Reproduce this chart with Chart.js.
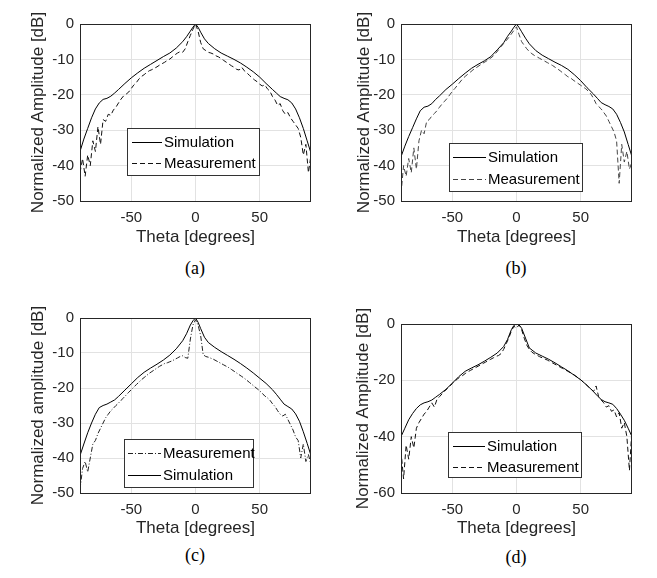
<!DOCTYPE html>
<html>
<head>
<meta charset="utf-8">
<script src="https://cdn.jsdelivr.net/npm/chart.js@4.4.1/dist/chart.umd.min.js"></script>
<style>
  body { margin: 0; background: #fff; }
  #wrap { position: relative; width: 657px; height: 578px; overflow: hidden; }
  canvas { position: absolute; }
  .cap { position: absolute; font: 18px "Liberation Serif", "Times New Roman", serif; color: #000; transform: translate(-50%, -50%); }
</style>
</head>
<body>
<div id="wrap">
  <canvas id="plotA" width="328" height="250" style="left:0;top:0"></canvas>
  <canvas id="plotB" width="329" height="250" style="left:328px;top:0"></canvas>
  <canvas id="plotC" width="328" height="250" style="left:0;top:290px"></canvas>
  <canvas id="plotD" width="329" height="250" style="left:328px;top:290px"></canvas>
  <div class="cap" style="left:195px;top:268px">(a)</div>
  <div class="cap" style="left:516px;top:268px">(b)</div>
  <div class="cap" style="left:195px;top:555px">(c)</div>
  <div class="cap" style="left:516px;top:557px">(d)</div>
</div>
<script>
// angle grids (degrees)
const thetaSim = [-90,-87,-84,-81,-78,-75,-72,-69,-66,-63,-60,-55,-50,-45,-40,-35,-30,-25,-20,-15,-10,-7,-4,-2,0,
  2,4,7,10,15,20,25,30,35,40,45,50,55,60,63,66,69,72,75,78,81,84,87,90];
const thetaMeas = [-90,-88,-86,-84,-82,-80,-78,-76,-74,-72,-70,-68,-66,-64,-62,-60,-58,-56,-54,-52,
  -50,-48,-46,-44,-42,-40,-38,-36,-34,-32,-30,-28,-26,-24,-22,-20,-18,-16,-14,-12,
  -10,-8,-6,-4,-2,0,2,4,6,8,10,12,14,16,18,20,22,24,26,28,
  30,32,34,36,38,40,42,44,46,48,50,52,54,56,58,60,62,64,66,68,
  70,72,74,76,78,80,82,84,86,88,90];

// (a)
const simA = [-36,-32.5,-29.5,-26.5,-24,-22.3,-21.3,-21,-20.4,-19.5,-18.5,-16.8,-15.2,-13.8,-12.5,-11.4,-10.3,-9.2,-8.2,-6.8,-5,-3.6,-2,-0.9,0,
  -0.9,-2.3,-4.2,-5.5,-7,-8.2,-9.1,-10,-11,-12.2,-13.5,-15,-16.8,-18.5,-19.5,-20.5,-21,-21.4,-22.3,-24,-26.5,-29.5,-33,-36.5];
const measA = [-42,-38,-43,-37,-40,-33,-36,-29,-34,-27,
  -27.5,-25.5,-25.8,-24.3,-23.5,-22.3,-21.2,-20.3,-19.8,-19.2,
  -18.2,-17.2,-16.5,-15.5,-14.8,-14.3,-13.7,-13.2,-12.9,-12.5,
  -12.1,-11.6,-11.2,-10.8,-10.3,-9.9,-9.3,-8.7,-8.2,-7.8,
  -8,-7,-5,-3.2,-1.5,0,-2,-5.2,-7,-7.5,
  -8,-8.2,-8.5,-9,-9.3,-9.8,-10.3,-10.8,-11.3,-11.8,
  -12.2,-12.8,-13,-12.2,-13.2,-13.8,-14.5,-15.2,-15.8,-16.3,
  -17,-17.5,-17.2,-18.3,-19,-20.5,-21.5,-23,-22.5,-24.5,
  -25.5,-25,-26.5,-27.5,-28.5,-29.5,-32,-37,-34,-42,
  -37];

// (b)
const simB = [-37.5,-34.5,-31.8,-29.3,-26.8,-24.5,-23.5,-23.2,-22.5,-21.3,-20.3,-18.5,-17,-15.4,-13.9,-12.5,-11.4,-10.4,-9.2,-7.3,-5.3,-3.5,-2,-0.9,0,
  -1,-2.2,-4,-5.6,-7.5,-8.8,-9.8,-10.8,-11.7,-12.8,-14.3,-16,-18,-19.8,-21,-22.2,-22.8,-23.3,-24,-25.5,-27.8,-30.5,-34,-37.5];
const measB = [-48,-40,-43,-38,-42,-35,-41,-33,-30,-31,
  -27.5,-27,-26,-25.3,-24.5,-23.5,-22.6,-21.8,-21,-20,
  -19,-18.2,-17.3,-16.4,-15.5,-14.8,-14.2,-13.6,-13,-12.5,
  -12,-11.5,-11,-10.6,-10.1,-9.6,-9,-8.2,-7.3,-6.4,
  -5.5,-4.7,-3.8,-2.8,-1.8,-0.8,-3,-5,-6,-7,
  -7.8,-8.4,-8.9,-9.3,-9.7,-10.1,-10.5,-10.9,-11.3,-11.7,
  -12.2,-12.7,-13.2,-13.8,-14.3,-14.9,-15.2,-15.8,-16.3,-16.8,
  -17.3,-17.8,-18.3,-19,-19.8,-21,-22.5,-23.3,-24,-25,
  -26,-27.5,-29,-30.5,-33,-45,-34,-39,-36,-41,
  -39];

// (c)
const simC = [-39.3,-36,-32.8,-30,-27.5,-25.6,-25,-24.6,-24,-23.4,-22.4,-20.6,-18.8,-17,-15.5,-14.3,-13.2,-12,-10.6,-8.8,-6.5,-4.5,-2,-0.8,0,
  -1.2,-3,-5.5,-7,-8.4,-9.6,-10.7,-11.8,-13,-14.3,-15.7,-17.2,-18.7,-20.5,-21.8,-23.2,-24.6,-25.3,-26,-27.4,-29.5,-32.5,-35.8,-39.3];
const measC = [-49,-43,-41,-44,-40,-36,-35,-33,-31.5,-30,
  -28.5,-27.5,-26.5,-25.8,-25,-24.3,-23.5,-22.8,-22,-21.2,
  -20.5,-19.7,-19,-18.3,-17.6,-17,-16.4,-15.8,-15.3,-14.8,
  -14.3,-13.8,-13.4,-13,-12.8,-12.5,-12.2,-11.8,-11.4,-11,
  -10.8,-11.3,-11.5,-6,-2,-0.5,-2,-5,-10.5,-11,
  -11.2,-11.5,-11.8,-12.2,-12.6,-13,-13.4,-13.8,-14.2,-14.7,
  -15.2,-15.7,-16.2,-16.7,-17.2,-17.8,-18.4,-19,-19.6,-20.2,
  -20.8,-21.5,-22.3,-22.8,-23.5,-24.5,-25.3,-26.5,-27.5,-28,
  -27.5,-29,-30.5,-32,-34,-35,-40,-36,-41,-39,
  -42];

// (d)
const simD = [-40,-37,-34,-31.8,-30,-28.7,-28,-27.6,-27,-26,-25,-23.2,-21,-18.7,-16.8,-15.6,-14.5,-13.2,-11.8,-10.3,-8,-5.5,-2,-0.5,0,
  -0.3,-1.5,-5,-8.5,-10.3,-11.4,-12.5,-13.8,-15.2,-16.6,-18.2,-19.8,-21.8,-24,-25.5,-26.8,-27.6,-28,-28.5,-30,-32,-34.2,-37,-40];
const measD = [-45,-55,-43,-48,-40,-44,-37,-35,-33.5,-32,
  -31,-29.5,-28,-29.5,-26.8,-25.8,-24.8,-23.8,-23,-22,
  -21.2,-20.3,-19.5,-18.8,-18.3,-17.6,-17,-16.5,-16,-15.5,
  -15,-14.5,-14,-13.5,-13,-12.5,-12,-11.5,-11.2,-10.5,
  -9,-7,-5,-2.5,-0.8,-1.5,-0.3,-2,-5,-7.5,
  -9,-10,-10.6,-11.1,-11.6,-12,-12.4,-12.8,-13.3,-13.8,
  -14.3,-14.8,-15.3,-15.8,-16.3,-16.8,-17.3,-17.8,-18.4,-19,
  -19.8,-20.6,-21.4,-22.3,-23,-24,-22,-25.8,-27,-28,
  -29.5,-29,-31,-30.5,-33,-31.5,-37,-35,-40,-52,
  -37];

const xTicks = [-50, 0, 50];
const yTicks50 = [0, -10, -20, -30, -40, -50];
const yTicks60 = [0, -20, -40, -60];

const inkColor = '#262626';
const gridColor = '#e2e2e2';
const tickFont = { family: 'Liberation Sans, Arial, sans-serif', size: 15 };
const titleFont = { family: 'Liberation Sans, Arial, sans-serif', size: 17 };

// axes box + legend inside plot
const boxLegend = {
  id: 'boxLegend',
  afterDraw(chart, args, opts) {
    const c = chart.ctx, a = chart.chartArea;
    c.save();
    c.strokeStyle = inkColor;
    c.lineWidth = 1;
    c.setLineDash([]);
    c.strokeRect(Math.round(a.left) + 0.5, Math.round(a.top) + 0.5,
      Math.round(a.right - a.left) - 1, Math.round(a.bottom - a.top));
    const b = opts.box;
    c.fillStyle = '#fff';
    c.fillRect(b[0], b[1], b[2] - b[0], b[3] - b[1]);
    c.strokeStyle = '#333';
    c.strokeRect(b[0] + 0.5, b[1] + 0.5, b[2] - b[0], b[3] - b[1]);
    c.font = '15px Liberation Sans, Arial, sans-serif';
    c.textBaseline = 'middle';
    opts.order.forEach((di, k) => {
      const ds = chart.data.datasets[di];
      const y = opts.rows[k] + 0.5;
      c.beginPath();
      c.strokeStyle = ds.borderColor;
      c.lineWidth = ds.borderWidth;
      c.setLineDash(ds.borderDash || []);
      c.moveTo(opts.line[0], y);
      c.lineTo(opts.line[1], y);
      c.stroke();
      c.setLineDash([]);
      c.fillStyle = '#000';
      c.fillText(ds.label, opts.textX, y);
    });
    c.restore();
  }
};

function makePlot(id, o) {
  const canvas = document.getElementById(id);
  const W = canvas.width, H = canvas.height;
  return new Chart(canvas.getContext('2d'), {
    type: 'line',
    data: {
      datasets: o.series.map(s => ({
        label: s.label,
        data: s.x.map((x, i) => ({ x: x, y: s.y[i] })),
        borderColor: s.color,
        borderWidth: 1,
        borderDash: s.dash,
        pointRadius: 0,
        tension: 0,
        fill: false
      }))
    },
    options: {
      responsive: false,
      animation: false,
      devicePixelRatio: 1,
      layout: { padding: { top: o.area[1], right: W - o.area[2], bottom: 0, left: 0 } },
      plugins: {
        legend: { display: false },
        tooltip: { enabled: false },
        boxLegend: o.legend
      },
      scales: {
        x: {
          type: 'linear', min: -90, max: 90,
          afterBuildTicks: s => { s.ticks = xTicks.map(v => ({ value: v })); },
          afterFit: s => { s.height = H - o.area[3]; },
          grid: { color: gridColor, drawTicks: false },
          border: { display: false },
          ticks: { padding: 8, font: tickFont, color: inkColor, maxRotation: 0 },
          title: { display: true, text: 'Theta [degrees]', font: titleFont, color: inkColor, padding: { top: 0, bottom: o.xTitlePad } }
        },
        y: {
          type: 'linear', min: o.yMin, max: 0,
          afterBuildTicks: s => { s.ticks = o.yTicks.map(v => ({ value: v })); },
          afterFit: s => { s.width = o.area[0]; },
          grid: { color: gridColor, drawTicks: false },
          border: { display: false },
          ticks: { padding: 6, font: tickFont, color: inkColor },
          title: { display: true, text: o.yTitle, font: titleFont, color: inkColor, padding: { top: o.yTitlePad, bottom: 0 } }
        }
      }
    },
    plugins: [boxLegend]
  });
}

makePlot('plotA', {
  area: [80, 24, 311, 201], yMin: -50, yTicks: yTicks50,
  yTitle: 'Normalized Amplitude [dB]', yTitlePad: 28, xTitlePad: 2,
  series: [
    { label: 'Simulation', x: thetaSim, y: simA, color: '#000', dash: [] },
    { label: 'Measurement', x: thetaMeas, y: measA, color: '#111', dash: [5, 3] }
  ],
  legend: { box: [127, 128, 259, 175], rows: [142, 163], line: [132, 162], textX: 164, order: [0, 1] }
});

makePlot('plotB', {
  area: [73, 24, 304, 201], yMin: -50, yTicks: yTicks50,
  yTitle: 'Normalized Amplitude [dB]', yTitlePad: 26, xTitlePad: 2,
  series: [
    { label: 'Simulation', x: thetaSim, y: simB, color: '#000', dash: [] },
    { label: 'Measurement', x: thetaMeas, y: measB, color: '#444', dash: [5, 3] }
  ],
  legend: { box: [121, 143, 254, 191], rows: [157, 179], line: [125, 158], textX: 160, order: [0, 1] }
});

makePlot('plotC', {
  area: [80, 28, 311, 203], yMin: -50, yTicks: yTicks50,
  yTitle: 'Normalized amplitude [dB]', yTitlePad: 28, xTitlePad: 1,
  series: [
    { label: 'Simulation', x: thetaSim, y: simC, color: '#000', dash: [] },
    { label: 'Measurement', x: thetaMeas, y: measC, color: '#222', dash: [5, 2, 1, 2] }
  ],
  legend: { box: [124, 149, 253, 197], rows: [163, 185], line: [128, 161], textX: 163, order: [1, 0] }
});

makePlot('plotD', {
  area: [73, 34, 304, 203], yMin: -60, yTicks: yTicks60,
  yTitle: 'Normalized Amplitude [dB]', yTitlePad: 25, xTitlePad: 1,
  series: [
    { label: 'Simulation', x: thetaSim, y: simD, color: '#000', dash: [] },
    { label: 'Measurement', x: thetaMeas, y: measD, color: '#111', dash: [5, 3] }
  ],
  legend: { box: [120, 142, 253, 187], rows: [156, 177], line: [125, 157], textX: 159, order: [0, 1] }
});
</script>
</body>
</html>
